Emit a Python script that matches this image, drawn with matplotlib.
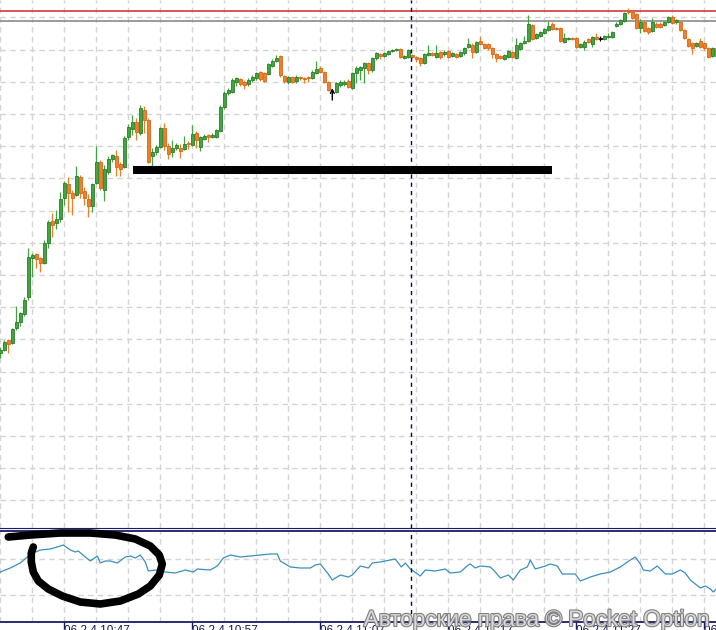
import numpy as np
import matplotlib
matplotlib.use("Agg")
import matplotlib.pyplot as plt
import matplotlib.patheffects as pe

# candle data (screen units, smaller = higher price)
opens = [353, 350, 340, 343, 328, 322, 314, 297, 258, 254, 258, 263, 243, 221, 223, 219, 198, 184, 193, 195,
         177, 191, 199, 206, 183, 162, 190, 172, 159, 156, 164, 167, 137, 129, 122, 133, 110, 120, 156, 152,
         147, 128, 146, 152, 148, 148, 149, 143, 145, 133, 147, 139, 135, 137, 137, 131, 107, 93, 92, 82,
         79, 82, 84, 80, 78, 72, 73, 74, 66, 61, 56, 76, 82, 77, 81, 77, 78, 77, 78, 73,
         68, 72, 82, 89, 92, 85, 84, 81, 88, 73, 70, 68, 63, 70, 58, 54, 56, 54, 51, 50,
         49, 58, 57, 55, 57, 58, 63, 55, 53, 57, 52, 54, 51, 56, 54, 56, 53, 47, 45, 52,
         41, 44, 44, 48, 54, 56, 59, 57, 52, 58, 49, 43, 41, 25, 38, 36, 33, 30, 24, 28,
         28, 42, 39, 38, 38, 47, 47, 39, 44, 37, 38, 39, 37, 37, 26, 24, 21, 11, 12, 14,
         28, 22, 28, 31, 24, 24, 25, 22, 17, 22, 22, 30, 39, 43, 46, 41, 43, 48, 56, 48]
closes = [350, 342, 344, 329, 322, 313, 300, 257, 255, 259, 263, 243, 222, 225, 219, 199, 183, 193, 198, 176,
          193, 198, 206, 184, 162, 188, 169, 159, 155, 167, 169, 138, 127, 122, 132, 108, 120, 162, 152, 147,
          128, 146, 154, 148, 145, 151, 144, 144, 134, 140, 137, 136, 137, 135, 130, 107, 93, 90, 80, 78,
          84, 85, 80, 77, 73, 79, 81, 64, 61, 58, 75, 81, 77, 82, 77, 78, 79, 78, 72, 69,
          72, 82, 90, 90, 83, 82, 82, 87, 73, 68, 67, 63, 70, 58, 53, 56, 53, 51, 50, 49,
          57, 56, 50, 57, 59, 63, 54, 53, 55, 53, 57, 52, 57, 53, 57, 52, 48, 44, 52, 42,
          44, 48, 48, 54, 58, 58, 55, 51, 57, 45, 43, 41, 24, 39, 34, 32, 29, 26, 29, 29,
          41, 38, 38, 39, 47, 44, 42, 42, 37, 39, 38, 36, 36, 32, 24, 20, 13, 12, 18, 28,
          22, 31, 32, 22, 27, 27, 22, 17, 23, 20, 30, 38, 46, 48, 43, 47, 48, 57, 48, 56]
highs = [347, 340, 339, 328, 306, 312, 297, 248, 253, 253, 257, 240, 220, 213, 210, 192, 181, 177, 190, 166,
         175, 187, 194, 183, 146, 160, 165, 156, 154, 150, 162, 136, 124, 115, 118, 105, 106, 118, 148, 145,
         127, 123, 143, 140, 143, 144, 136, 141, 125, 131, 136, 134, 134, 133, 129, 105, 91, 88, 78, 77,
         78, 80, 78, 75, 72, 71, 72, 63, 59, 55, 55, 75, 76, 76, 75, 76, 77, 76, 70, 61,
         66, 71, 81, 88, 82, 80, 80, 79, 72, 66, 66, 62, 62, 57, 52, 53, 52, 50, 49, 48,
         48, 55, 49, 54, 56, 57, 53, 45, 52, 45, 51, 50, 50, 52, 53, 51, 47, 38, 43, 41,
         36, 43, 43, 47, 53, 55, 54, 50, 51, 38, 42, 36, 15, 24, 33, 31, 28, 21, 22, 27,
         27, 33, 37, 37, 37, 43, 40, 38, 36, 33, 36, 35, 33, 31, 22, 19, 12, 8, 11, 13,
         19, 21, 27, 18, 22, 22, 21, 16, 15, 19, 21, 29, 38, 42, 42, 38, 42, 47, 47, 47]
lows = [358, 351, 353, 344, 330, 326, 316, 300, 277, 268, 272, 264, 248, 237, 229, 222, 205, 212, 215, 196,
        198, 205, 217, 212, 184, 190, 201, 174, 162, 176, 176, 168, 140, 135, 140, 135, 133, 163, 167, 155,
        148, 150, 159, 157, 150, 158, 150, 149, 146, 148, 151, 140, 142, 138, 138, 132, 109, 95, 93, 86,
        86, 89, 86, 82, 80, 81, 82, 75, 67, 62, 77, 83, 84, 83, 83, 80, 83, 82, 79, 74,
        73, 83, 91, 91, 93, 87, 86, 88, 89, 83, 80, 83, 74, 72, 60, 59, 57, 55, 52, 51,
        58, 59, 58, 58, 62, 66, 64, 56, 56, 58, 59, 56, 58, 57, 58, 57, 55, 48, 58, 53,
        45, 49, 50, 58, 62, 59, 60, 58, 58, 59, 50, 44, 42, 40, 39, 37, 34, 31, 30, 30,
        42, 43, 40, 40, 48, 48, 50, 43, 47, 40, 41, 40, 38, 38, 27, 25, 22, 14, 19, 29,
        33, 32, 34, 32, 28, 28, 26, 23, 24, 24, 31, 39, 47, 54, 47, 48, 50, 58, 57, 57]
marked = [150]  # candle carrying the black trade mark
arrow_at = 83   # trade arrow, no candle drawn there

# indicator in the lower window
osc_pos = [0, 2.5, 5, 6.75, 8.25, 10, 12.5, 14.25, 15.75, 17.5, 18.75, 19.5, 21.25, 22.5, 24.25, 25, 26.25,
           27.5, 29.25, 31.25, 32.5, 33.75, 35, 36.25, 37, 38.75, 41.25, 43.75, 46.25, 48.25, 49.25, 52.5,
           54.25, 55.75, 57.5, 60, 62.5, 65, 67.5, 69.25, 70, 72.5, 75, 77.5, 78.75, 80, 82, 83, 85, 87,
           88, 90, 92, 93, 95, 97.5, 98.75, 100.25, 101.25, 102.5, 105, 106.25, 108.75, 111.25, 112.5, 115,
           117, 117.5, 118.75, 120, 122.5, 123.75, 125, 127, 128.25, 130, 131.75, 132.5, 133.75, 136.25,
           137.5, 139.25, 140.5, 143.75, 145, 147.5, 150, 152.5, 155, 157.5, 158.75, 160, 160.75, 162.5,
           164.25, 166.25, 168, 170, 171.25, 172.5, 175, 176.25, 177.5, 178.25, 179]
osc_val = [572, 568, 563, 557, 553, 550, 549, 547, 545, 550, 552, 551, 557, 561, 556, 563, 561, 561, 563,
           557, 556, 558, 555, 562, 571, 570, 572, 573, 570, 572, 569, 570, 566, 558, 555, 557, 556, 555,
           554, 554, 561, 567, 568, 568, 565, 564, 574, 580, 575, 577, 575, 566, 568, 563, 562, 560, 559,
           567, 563, 569, 576, 570, 571, 569, 573, 572, 565, 564, 568, 566, 567, 572, 578, 575, 580, 570,
           567, 560, 569, 566, 564, 566, 574, 574, 581, 577, 574, 572, 567, 560, 557, 564, 570, 571, 566,
           574, 574, 570, 573, 580, 588, 586, 589, 592, 589]

time_labels = ["06.2.4 10:47", "06.2.4 10:57", "06.2.4 11:07", "06.2.4 11:17", "06.2.4 11:27", "06.2.4 11:37"]

# drawn on top of the chart by hand
red_level = 11
gray_level = 21
drawn_line_x = [33.2, 137.9]
drawn_line_y = 170
cursor_x = 102.7
scribble_x = [2, 7.5, 15, 22.5, 28.75, 33.75, 37.5, 39.75, 40.5, 39.75, 37.5, 34.5, 30, 25, 20, 15.5,
              12, 9.5, 8.25, 7.75, 7.75, 8.25]
scribble_y = [537, 535, 533, 533, 535, 539, 546, 555, 564, 575, 586, 594, 601, 604, 602, 596, 589, 581,
              572, 562, 553, 547]

W, H = 716, 630
fig = plt.figure(figsize=(W / 100, H / 100), dpi=100)
fig.patch.set_facecolor("white")

ax = fig.add_axes([0, 1 - 528 / H, 1, 528 / H])
ax2 = fig.add_axes([0, 1 - 622 / H, 1, 91 / H])

grid_kw = dict(color="#d4d4d4", linestyle=(0, (4, 3)), linewidth=1)

# main window
ax.set_xlim(-0.075, 178.925)
ax.set_ylim(528, 0)
ax.set_xticks(np.arange(0, 180, 8))
ax.set_yticks(np.arange(17.3, 510, 32.2))
ax.grid(True, **grid_kw)
ax.tick_params(length=0, labelbottom=False, labelleft=False)
for s in ["top", "left", "right"]:
    ax.spines[s].set_visible(False)
ax.spines["bottom"].set_color("#1a1a66")
ax.set_axisbelow(True)

ax.axhline(red_level, color="#d23b3b", lw=1.2, zorder=2)
ax.axhline(gray_level, color="#8a8a8a", lw=1.2, zorder=2)

opens = np.array(opens)
closes = np.array(closes)
idx = np.arange(len(opens))
up = closes < opens
colors = np.where(up, "#42a542", "#f07f26")
edges = np.where(up, "#2a7d2a", "#d9651a")
colors[marked] = "black"
edges[marked] = "black"
show = idx != arrow_at

ax.vlines(idx[show], np.array(highs)[show], np.array(lows)[show], colors=colors[show], lw=0.9, zorder=3)
bottoms = np.minimum(opens, closes)
heights = np.maximum(np.abs(opens - closes), 0.8)
ax.bar(idx[show], heights[show], bottom=bottoms[show], width=0.68, color=colors[show],
       edgecolor=edges[show], linewidth=0.6, zorder=4)

# little trade arrow
ax.annotate("", xy=(arrow_at, highs[arrow_at]), xytext=(arrow_at, lows[arrow_at] + 9),
            arrowprops=dict(arrowstyle="->", color="black", lw=1, mutation_scale=7,
                            shrinkA=0, shrinkB=0), zorder=5)

ax.plot(drawn_line_x, [drawn_line_y, drawn_line_y], color="black", lw=5.8, solid_capstyle="butt", zorder=6)
ax.axvline(cursor_x, color="#0a0a40", lw=1, linestyle=(0, (3, 3)), zorder=5)

# indicator window
ax2.set_xlim(-0.075, 178.925)
ax2.set_ylim(622, 531)
ax2.set_yticks([559, 595])
ax2.set_xticks(np.arange(16, 180, 32))
ax2.set_xticks(np.arange(0, 180, 8), minor=True)
ax2.grid(True, which="both", **grid_kw)
ax2.set_xticklabels(time_labels, ha="left", fontsize=8.5, color="#1a1a40", family="Liberation Sans")
ax2.tick_params(axis="x", which="major", length=5, width=1, color="#1a1a66", pad=-3, direction="out")
ax2.tick_params(axis="x", which="minor", length=0)
ax2.tick_params(axis="y", length=0, labelleft=False)
for s in ["left", "right"]:
    ax2.spines[s].set_visible(False)
for s in ["top", "bottom"]:
    ax2.spines[s].set_color("#1a1a66")
    ax2.spines[s].set_linewidth(1.3)
ax2.set_axisbelow(True)

ax2.plot(osc_pos, osc_val, color="#3a8fc0", lw=0.9, zorder=3)
ax2.axvline(cursor_x, color="#0a0a40", lw=1, linestyle=(0, (3, 3)), zorder=4)
ax2.plot(scribble_x, scribble_y, color="black", lw=5.5, solid_capstyle="round",
         solid_joinstyle="round", clip_on=False, zorder=6)

fig.text(710 / W, 4 / H, "Авторские права © Pocket Option", ha="right", va="baseline",
         fontsize=16.2, family="Liberation Sans", color="#d8d8d8",
         path_effects=[pe.withStroke(linewidth=1.6, foreground="#808080")], zorder=10)

fig.savefig("out.png", dpi=100)
